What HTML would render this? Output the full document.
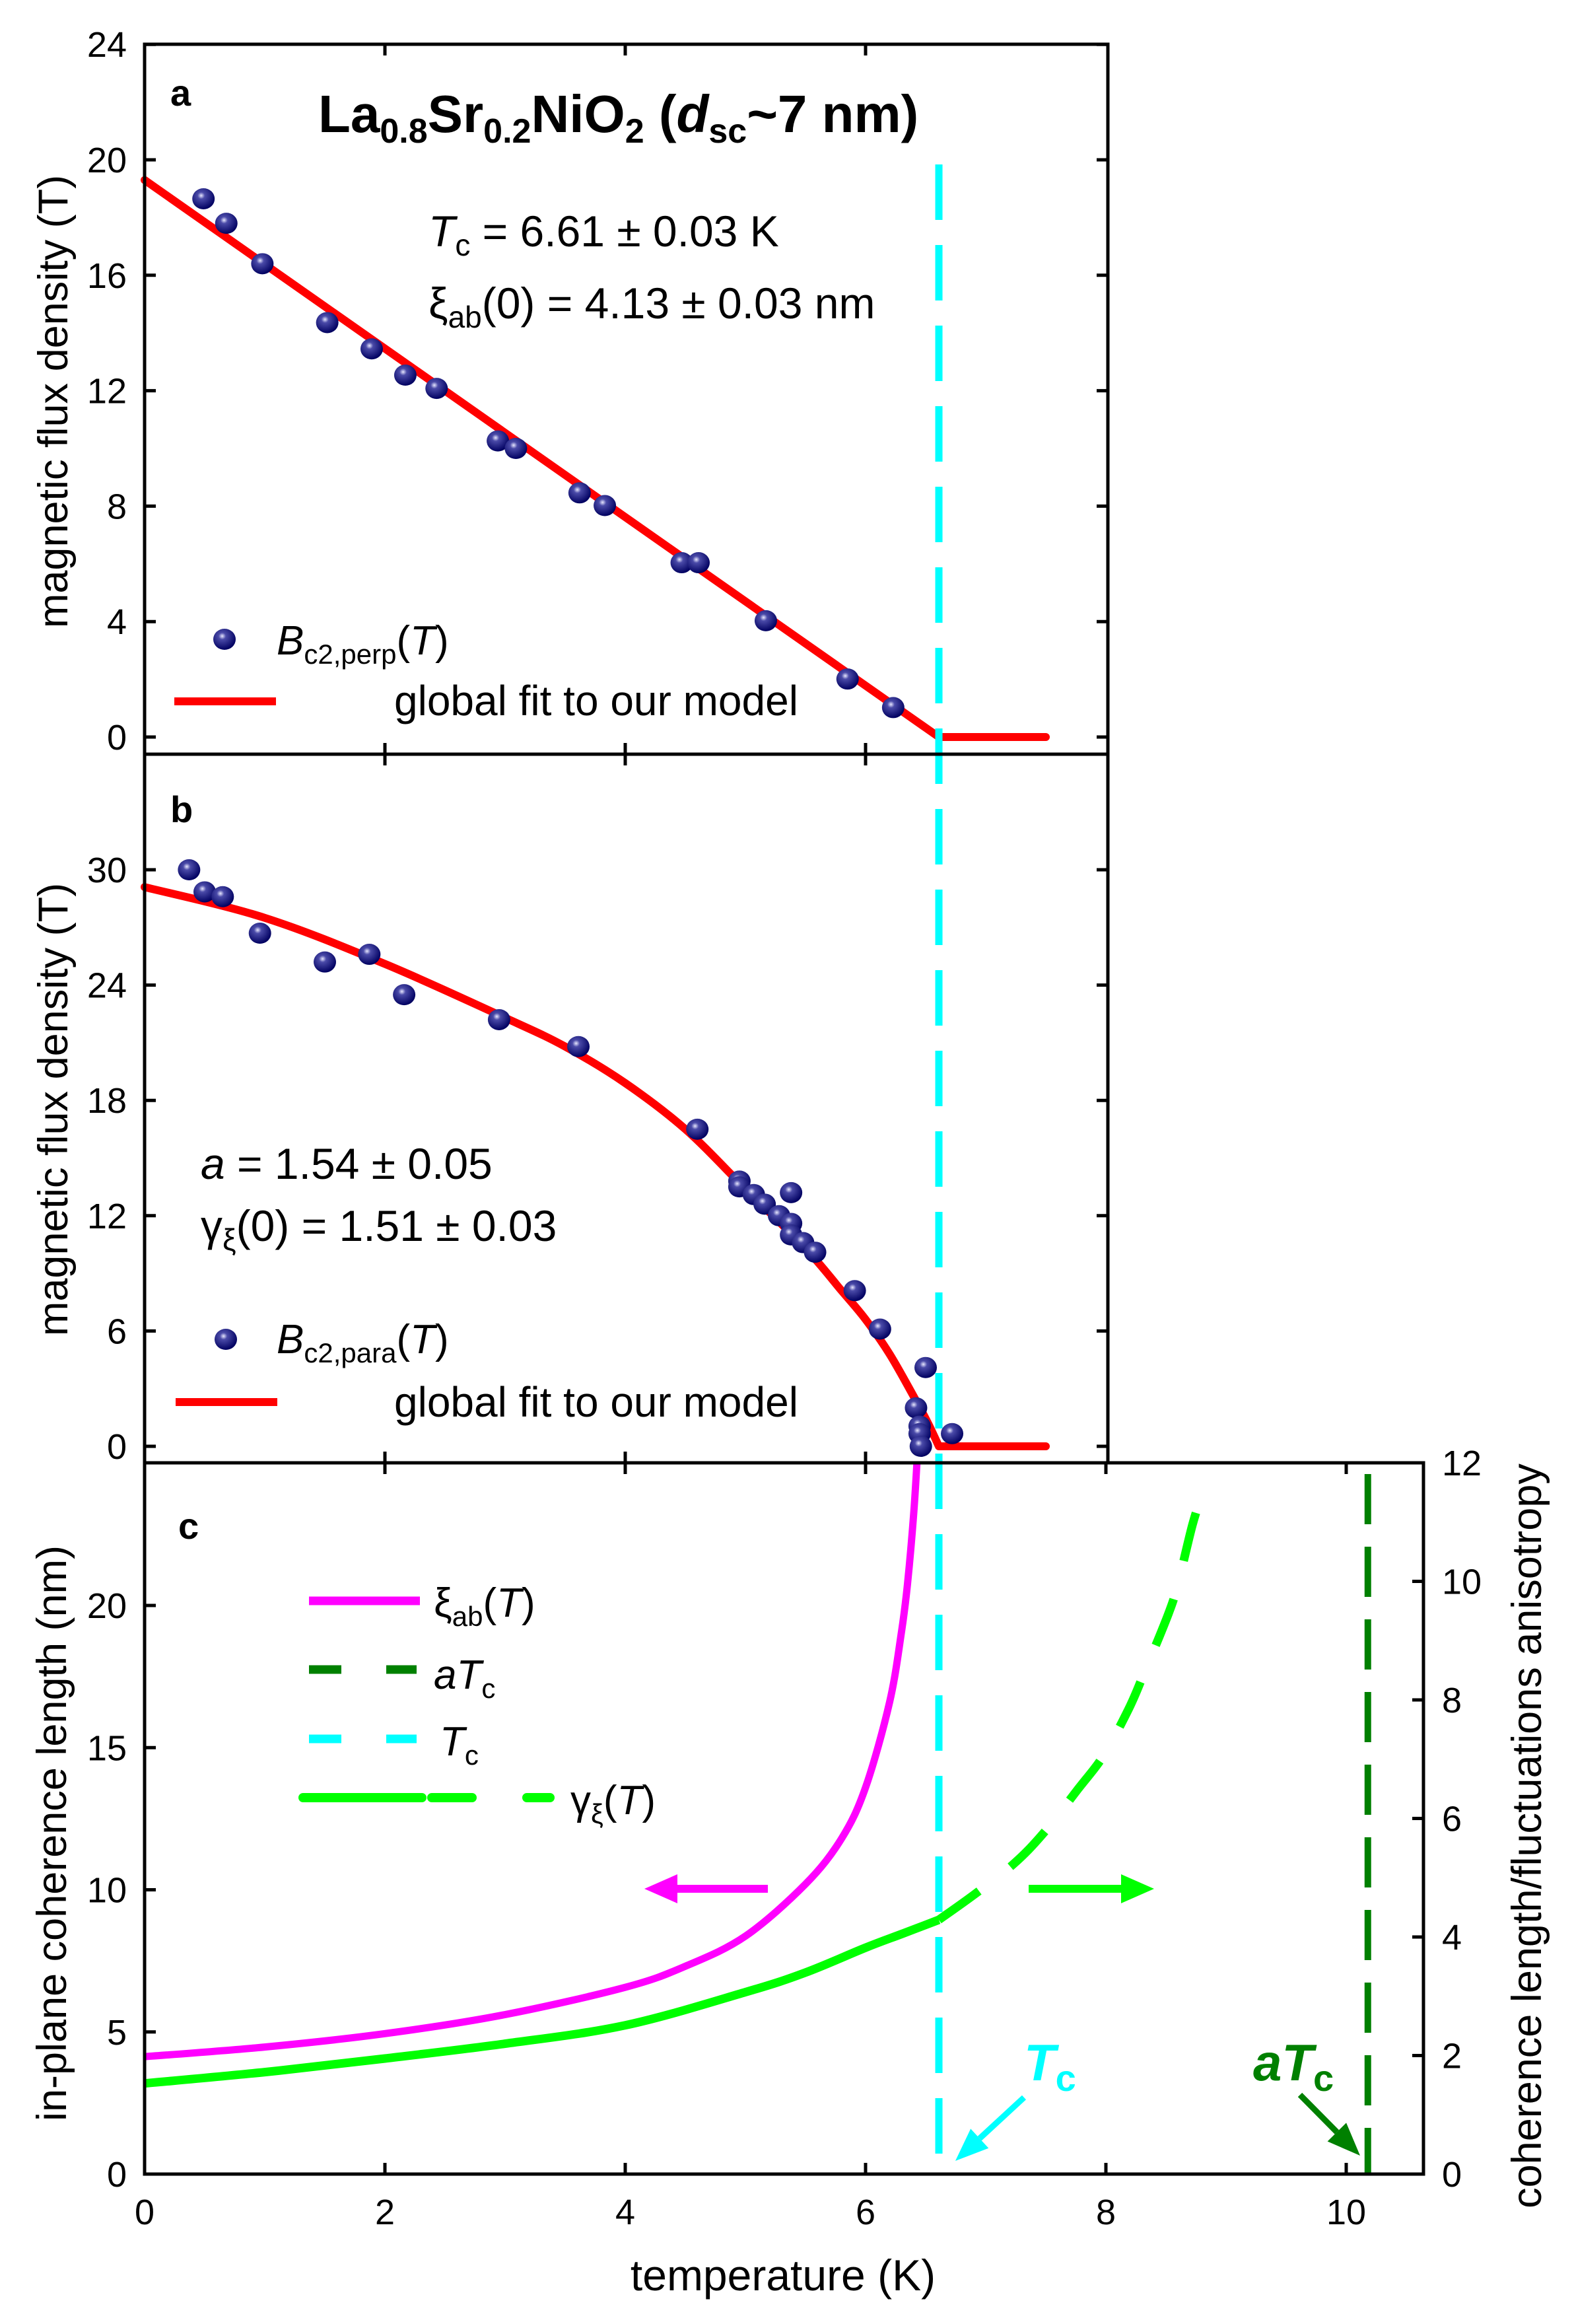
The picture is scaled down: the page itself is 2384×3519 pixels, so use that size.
<!DOCTYPE html>
<html><head><meta charset="utf-8">
<style>
html,body{margin:0;padding:0;background:#fff;}
svg{display:block;}
text{font-family:"Liberation Sans Narrow","Liberation Sans",sans-serif;fill:#000;}
.t{font-size:54px;}
.ttl{font-family:"Liberation Sans",sans-serif;font-size:63px;}
</style></head>
<body>
<svg id="fig" xmlns="http://www.w3.org/2000/svg" width="2384" height="3519" viewBox="0 0 2384 3519">
<defs>
<radialGradient id="ball" cx="0.4" cy="0.35" r="0.65">
<stop offset="0" stop-color="#e8e8ff"/><stop offset="0.25" stop-color="#4a4aa8"/><stop offset="1" stop-color="#000060"/>
</radialGradient>
</defs>
<g id="marks"></g>
<text x="258" y="160" style="font-family:'Liberation Sans',sans-serif;font-weight:bold;font-size:56px">a</text>
<text x="482" y="200" style="font-weight:bold;font-size:80px">La<tspan dy="16" font-size="52">0.8</tspan><tspan dy="-16">Sr</tspan><tspan dy="16" font-size="52">0.2</tspan><tspan dy="-16">NiO</tspan><tspan dy="16" font-size="52">2</tspan><tspan dy="-16"> (</tspan><tspan font-style="italic">d</tspan><tspan dy="16" font-size="52">sc</tspan><tspan dy="-16">~7 nm)</tspan></text>
<text x="649" y="373" style="font-size:66px"><tspan font-style="italic">T</tspan><tspan dy="14" font-size="46">c</tspan><tspan dy="-14"> = 6.61 ± 0.03 K</tspan></text>
<text x="649" y="482" style="font-size:66px">ξ<tspan dy="14" font-size="46">ab</tspan><tspan dy="-14">(0) = 4.13 ±  0.03 nm</tspan></text>
<text x="419" y="991" style="font-size:62px"><tspan font-style="italic">B</tspan><tspan dy="14" font-size="42">c2,perp</tspan><tspan dy="-14">(</tspan><tspan font-style="italic">T</tspan>)</text>
<text x="597" y="1083" style="font-size:64px">global fit to our model</text>
<text x="258" y="1245" style="font-family:'Liberation Sans',sans-serif;font-weight:bold;font-size:56px">b</text>
<text x="304" y="1785" style="font-size:66px"><tspan font-style="italic">a</tspan> = 1.54 ± 0.05</text>
<text x="304" y="1879" style="font-size:66px">γ<tspan dy="14" font-size="46">ξ</tspan><tspan dy="-14">(0) = 1.51 ± 0.03</tspan></text>
<text x="419" y="2049" style="font-size:62px"><tspan font-style="italic">B</tspan><tspan dy="14" font-size="42">c2,para</tspan><tspan dy="-14">(</tspan><tspan font-style="italic">T</tspan>)</text>
<text x="597" y="2145" style="font-size:64px">global fit to our model</text>
<text x="270" y="2330" style="font-family:'Liberation Sans',sans-serif;font-weight:bold;font-size:56px">c</text>
<text x="657" y="2448" style="font-size:62px">ξ<tspan dy="14" font-size="42">ab</tspan><tspan dy="-14">(</tspan><tspan font-style="italic">T</tspan>)</text>
<text x="657" y="2557" style="font-size:62px"><tspan font-style="italic">aT</tspan><tspan dy="14" font-size="42">c</tspan></text>
<text x="666" y="2658" style="font-size:62px"><tspan font-style="italic">T</tspan><tspan dy="14" font-size="42">c</tspan></text>
<text x="864" y="2747" style="font-size:62px">γ<tspan dy="14" font-size="42">ξ</tspan><tspan dy="-14">(</tspan><tspan font-style="italic">T</tspan>)</text>
<text x="1551" y="3150" style="font-size:78px;font-weight:bold;font-style:italic;fill:#00ffff">T<tspan dy="16" font-size="56" font-style="normal">c</tspan></text>
<text x="1898" y="3150" style="font-size:78px;font-weight:bold;font-style:italic;fill:#008000">aT<tspan dy="16" font-size="56" font-style="normal">c</tspan></text>
<text class="ttl" transform="translate(102,608) rotate(-90)" text-anchor="middle">magnetic flux density (T)</text>
<text class="ttl" transform="translate(102,1680) rotate(-90)" text-anchor="middle">magnetic flux density (T)</text>
<text class="ttl" transform="translate(100,2776) rotate(-90)" text-anchor="middle">in-plane coherence length (nm)</text>
<text class="ttl" transform="translate(2334,2780) rotate(-90)" text-anchor="middle">coherence length/fluctuations anisotropy</text>
<text x="1186" y="3468" text-anchor="middle" style="font-size:66px">temperature (K)</text>
</svg>
<script>
// ---- data ----
const aT = [0.49,0.68,0.98,1.52,1.89,2.17,2.43,2.94,3.09,3.62,3.83,4.47,4.61,5.17,5.85,6.23];
const aB = [18.65,17.8,16.4,14.36,13.45,12.54,12.08,10.26,10.0,8.46,8.02,6.04,6.04,4.03,2.01,1.02];
const aFitT = [0,6.61,7.5];
const aFitB = [19.3,0,0];
const bT = [0.37,0.50,0.65,0.96,1.50,1.87,2.16,2.95,3.61,4.60,4.95,4.95,5.07,5.16,5.28,5.38,5.38,5.38,5.48,5.58,5.91,6.12,6.50,6.42,6.45,6.45,6.46,6.72];
const bB = [30.0,28.85,28.6,26.7,25.2,25.6,23.5,22.2,20.8,16.5,13.8,13.5,13.1,12.6,12.0,13.2,11.6,11.0,10.6,10.1,8.1,6.1,4.1,2.0,1.05,0.66,0.0,0.66];
const bFitT = [0,1,2,3,3.5,4,4.5,5,5.5,5.8,6,6.2,6.4,6.52,6.61];
const bFitB = [29.1,27.5,25.1,22.3,20.8,18.9,16.5,13.4,10.3,8.1,6.6,4.8,2.6,1.2,0];
const bFlatT = [6.61,7.5];
const bFlatB = [0,0];
const xiT = [0,1,2,3,4,4.5,5,5.5,5.8,6,6.2,6.3,6.35,6.4,6.43,6.46];
const xiV = [4.13,4.47,4.94,5.61,6.57,7.31,8.37,10.2,11.8,13.6,16.6,19.1,20.8,23.2,25.2,27.5];
const gSolidT = [0,1,2,3,4,5,5.5,6,6.3,6.61];
const gSolidV = [1.53,1.72,1.95,2.2,2.51,3.07,3.4,3.82,4.05,4.29];
const gDashT = [6.61,6.9,7.23,7.48,7.77,7.98,8.19,8.32,8.52,8.6,8.72,8.82];
const gDashV = [4.29,4.71,5.23,5.75,6.5,7.06,7.85,8.46,9.45,9.96,10.95,11.6];
const Tc = 6.61, aTc = 10.18;
const yTicksA = [0,4,8,12,16,20,24];
const yTicksB = [0,6,12,18,24,30];
const yTicksC = [0,5,10,15,20];
const yTicksR = [0,2,4,6,8,10,12];
const xTicks = [0,2,4,6,8,10];

const X = t => 219 + 182*t;
const Ya = v => 1116 - 43.7*v;
const Yb = v => 2190 - 29.1*v;
const Yc = v => 3292 - 43.05*v;
const Yr = v => 3292 - 89.75*v;
const NS = 'http://www.w3.org/2000/svg';
const g = document.getElementById('marks');
function mk(tag, at){const e=document.createElementNS(NS,tag);for(const k in at)e.setAttribute(k,at[k]);g.appendChild(e);return e;}
function pathFrom(ts, vs, Y){return ts.map((t,i)=>(i?'L':'M')+X(t).toFixed(1)+','+Y(vs[i]).toFixed(1)).join(' ');}
function smooth(ts, vs, Y){
  const p=ts.map((t,i)=>[X(t),Y(vs[i])]);
  let d='M'+p[0][0].toFixed(1)+','+p[0][1].toFixed(1);
  for(let i=0;i<p.length-1;i++){
    const p0=p[i-1]||p[i],p1=p[i],p2=p[i+1],p3=p[i+2]||p[i+1];
    const c1=[p1[0]+(p2[0]-p0[0])/6,p1[1]+(p2[1]-p0[1])/6];
    const c2=[p2[0]-(p3[0]-p1[0])/6,p2[1]-(p3[1]-p1[1])/6];
    d+=' C'+c1.map(v=>v.toFixed(1)).join(',')+' '+c2.map(v=>v.toFixed(1)).join(',')+' '+p2.map(v=>v.toFixed(1)).join(',');
  }
  return d;
}

const defs=document.querySelector('defs');
const cp=document.createElementNS(NS,'clipPath');cp.setAttribute('id','clipc');
const cr=document.createElementNS(NS,'rect');cr.setAttribute('x',219);cr.setAttribute('y',2215);cr.setAttribute('width',1937);cr.setAttribute('height',1077);
cp.appendChild(cr);defs.appendChild(cp);

let e;
e=mk('path',{d:pathFrom(aFitT,aFitB,Ya),fill:'none',stroke:'#ff0000','stroke-width':12,'stroke-linejoin':'round','stroke-linecap':'round'});


e=mk('path',{d:smooth(bFitT,bFitB,Yb)+' '+pathFrom(bFlatT,bFlatB,Yb),fill:'none',stroke:'#ff0000','stroke-width':12,'stroke-linejoin':'round','stroke-linecap':'round'});



e=mk('path',{d:smooth(xiT,xiV,Yc),fill:'none',stroke:'#ff00ff','stroke-width':11,'clip-path':'url(#clipc)'});


e=mk('path',{d:smooth(gSolidT,gSolidV,Yr),fill:'none',stroke:'#00ff00','stroke-width':13});


e=mk('path',{d:smooth(gDashT,gDashV,Yr),fill:'none',stroke:'#00ff00','stroke-width':13,'stroke-dasharray':'75 60'});



e=mk('line',{x1:X(Tc),x2:X(Tc),y1:249,y2:3292,stroke:'#00ffff','stroke-width':11,'stroke-dasharray':'84 38'});


e=mk('line',{x1:X(aTc),x2:X(aTc),y1:2232,y2:3292,stroke:'#008000','stroke-width':10,'stroke-dasharray':'76 34'});



aT.forEach((t,i)=>{const c=mk('ellipse',{cx:X(t),cy:Ya(aB[i]),rx:17,ry:16,fill:'url(#ball)'});

});
bT.forEach((t,i)=>{const c=mk('ellipse',{cx:X(t),cy:Yb(bB[i]),rx:17,ry:16,fill:'url(#ball)'});

});

e=mk('ellipse',{cx:340,cy:968,rx:17,ry:16,fill:'url(#ball)'});


e=mk('line',{x1:264,x2:418,y1:1062,y2:1062,stroke:'#ff0000','stroke-width':12});


e=mk('ellipse',{cx:342,cy:2028,rx:17,ry:16,fill:'url(#ball)'});


e=mk('line',{x1:266,x2:420,y1:2123,y2:2123,stroke:'#ff0000','stroke-width':12});


e=mk('line',{x1:468,x2:636,y1:2424,y2:2424,stroke:'#ff00ff','stroke-width':13});


e=mk('path',{d:'M468,2528 H517 M585,2528 H631',stroke:'#008000','stroke-width':13});


e=mk('path',{d:'M468,2633 H517 M585,2633 H631',stroke:'#00ffff','stroke-width':13});


e=mk('path',{d:'M459,2722 H639 M654,2722 H715 M798,2722 H833',stroke:'#00ff00','stroke-width':14,'stroke-linecap':'round'});



function arrow(x1,y1,x2,y2,col,w,hl,hw,name){
  const a=Math.atan2(y2-y1,x2-x1), bx=x2-hl*Math.cos(a), by=y2-hl*Math.sin(a);
  const l=mk('line',{x1:x1,y1:y1,x2:bx,y2:by,stroke:col,'stroke-width':w});
  
  
  const px=-Math.sin(a)*hw, py=Math.cos(a)*hw;
  const p=mk('polygon',{points:`${x2},${y2} ${bx+px},${by+py} ${bx-px},${by-py}`,fill:col});
  
  
}
arrow(1163,2860,976,2860,'#ff00ff',12,50,22,'left-arrow');
arrow(1558,2860,1748,2860,'#00ff00',12,50,22,'right-arrow');
arrow(1551,3176,1447,3272,'#00ffff',9,50,20,'tc-arrow');
arrow(1969,3172,2060,3264,'#008000',9,50,20,'atc-arrow');

function box(x,y,w,h,name){const r=mk('rect',{x:x,y:y,width:w,height:h,fill:'none',stroke:'#000','stroke-width':5});

}
box(219,67,1459,1075,'panel-a-frame');
box(219,1142,1459,1073,'panel-b-frame');
box(219,2215,1937,1077,'panel-c-frame');

function tick(x1,y1,x2,y2){const t=mk('line',{x1:x1,y1:y1,x2:x2,y2:y2,stroke:'#000','stroke-width':5});

}
function label(x,y,s,anchor,name){const t=document.createElementNS(NS,'text');t.setAttribute('x',x);t.setAttribute('y',y);t.setAttribute('class','t');t.setAttribute('text-anchor',anchor);t.textContent=s;g.appendChild(t);

}

const L=17;
yTicksA.forEach(v=>{const y=Ya(v);tick(219,y,219+L,y);tick(1678,y,1678-L,y);label(192,y+19,String(v),'end','y-tick-label-a');});
yTicksB.forEach(v=>{const y=Yb(v);tick(219,y,219+L,y);tick(1678,y,1678-L,y);label(192,y+19,String(v),'end','y-tick-label-b');});
[2,4,6].forEach(t=>{const x=X(t);tick(x,67,x,67+L);tick(x,1142-L,x,1142+L);tick(x,2215-L,x,2215+L);});
yTicksC.forEach(v=>{const y=Yc(v);tick(219,y,219+L,y);label(192,y+19,String(v),'end','y-tick-label-c');});
yTicksR.forEach(v=>{const y=Yr(v);tick(2156,y,2156-L,y);label(2184,y+19,String(v),'start','y-tick-label-right');});
xTicks.forEach(t=>{const x=X(t);tick(x,3292,x,3292-L);if(t>0&&t<10)tick(x,2215,x,2215+L);label(x,3368,String(t),'middle','x-tick-label');});
tick(X(10),2215,X(10),2215+L);
</script>
</body></html>
